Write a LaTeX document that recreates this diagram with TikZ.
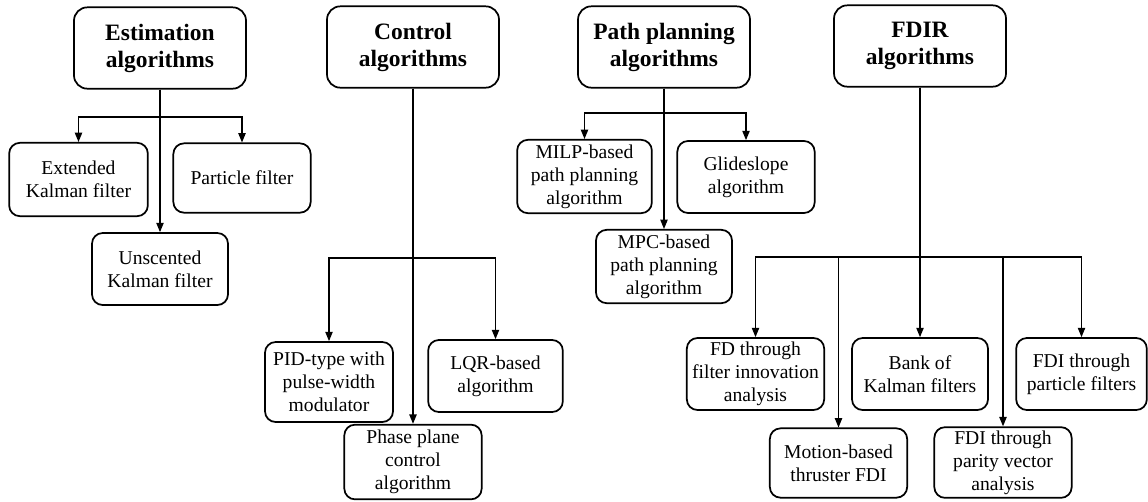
\documentclass[tikz,border=0pt]{standalone}
\usepackage{fontspec}
\setmainfont{Liberation Serif}
\usetikzlibrary{arrows.meta}
\begin{document}
\begin{tikzpicture}[x=0.75pt,y=-0.75pt,
  box/.style={draw,line width=1.3pt,rounded corners=8pt,align=center,inner sep=1pt,
    font=\fontsize{14.7}{17.3}\selectfont},
  head/.style={box,rounded corners=10pt,minimum width=129pt,minimum height=61pt,
    font=\fontsize{17.6}{20.3}\selectfont\bfseries},
  conn/.style={line width=0.9pt},
  arr/.style={conn,-{Triangle[length=7pt,width=5.5pt]}}]
\useasboundingbox (0,0) rectangle (1148,501);

% category headers
\node[head] (est)  at (160,48)   {Estimation\\algorithms};
\node[head] (ctrl) at (413,47)   {Control\\algorithms};
\node[head] (path) at (664,47)   {Path planning\\algorithms};
\node[head] (fdir) at (920,46)   {FDIR\\algorithms};

% estimation
\node[box,minimum width=104pt,minimum height=55pt] (ekf) at (78.5,179.5) {Extended\\Kalman filter};
\node[box,minimum width=103pt,minimum height=52pt] (pf)  at (242,178)    {Particle filter};
\node[box,minimum width=102pt,minimum height=54pt] (ukf) at (160,269)    {Unscented\\Kalman filter};

% control
\node[box,minimum width=96pt,minimum height=60pt]  (pid)   at (329,382)   {PID-type with\\pulse-width\\modulator};
\node[box,minimum width=101pt,minimum height=54pt] (lqr)   at (495.5,376) {LQR-based\\algorithm};
\node[box,minimum width=103pt,minimum height=56pt] (phase) at (413,462)   {Phase plane\\control\\algorithm};

% path planning
\node[box,minimum width=101pt,minimum height=55pt] (milp)  at (584.5,176.5) {MILP-based\\path planning\\algorithm};
\node[box,minimum width=103pt,minimum height=54pt] (glide) at (746,177)     {Glideslope\\algorithm};
\node[box,minimum width=102pt,minimum height=55pt] (mpc)   at (664,266.5)   {MPC-based\\path planning\\algorithm};

% FDIR
\node[box,minimum width=103pt,minimum height=54pt] (fd)     at (755.5,374)  {FD through\\filter innovation\\analysis};
\node[box,minimum width=102pt,minimum height=54pt] (bank)   at (920,374)    {Bank of\\Kalman filters};
\node[box,minimum width=98pt,minimum height=54pt]  (fdip)   at (1081.5,374) {FDI through\\particle filters};
\node[box,minimum width=103pt,minimum height=52pt] (motion) at (838.5,463)  {Motion-based\\thruster FDI};
\node[box,minimum width=103pt,minimum height=53pt] (parity) at (1003,462.5) {FDI through\\parity vector\\analysis};

% bus levels
\coordinate (estbus)  at (0,117);
\coordinate (ctrlbus) at (0,258);
\coordinate (pathbus) at (0,113);
\coordinate (fdirbus) at (0,257);

% connectors
\draw[arr] (est.south) -- (est.south |- estbus) -| (ekf.north);
\draw[arr] (est.south) -- (est.south |- estbus) -| (pf.north);
\draw[arr] (est.south) -- (ukf.north);

\draw[arr] (ctrl.south) -- (ctrl.south |- ctrlbus) -| (pid.north);
\draw[arr] (ctrl.south) -- (ctrl.south |- ctrlbus) -| (lqr.north);
\draw[arr] (ctrl.south) -- (phase.north);

\draw[arr] (path.south) -- (path.south |- pathbus) -| (milp.north);
\draw[arr] (path.south) -- (path.south |- pathbus) -| (glide.north);
\draw[arr] (path.south) -- (mpc.north);

\draw[arr] (fdir.south) -- (fdir.south |- fdirbus) -| (fd.north);
\draw[arr] (fdir.south) -- (fdir.south |- fdirbus) -| (motion.north);
\draw[arr] (fdir.south) -- (bank.north);
\draw[arr] (fdir.south) -- (fdir.south |- fdirbus) -| (parity.north);
\draw[arr] (fdir.south) -- (fdir.south |- fdirbus) -| (fdip.north);
\end{tikzpicture}
\end{document}
